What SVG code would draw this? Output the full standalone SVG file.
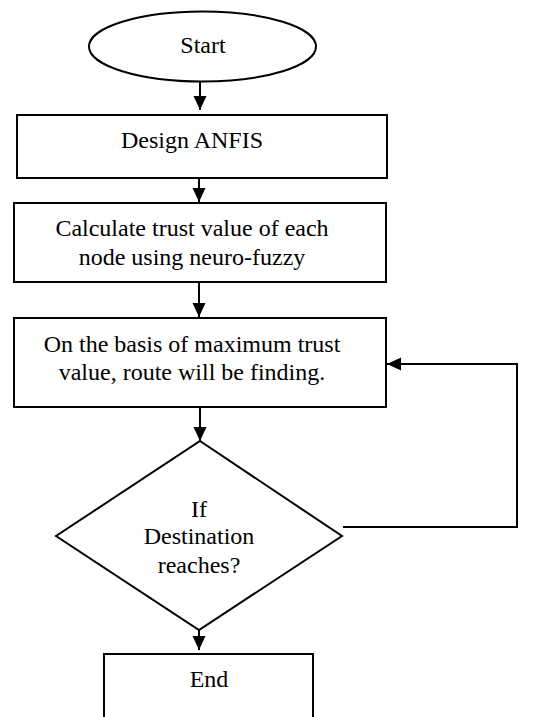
<svg xmlns="http://www.w3.org/2000/svg" width="546" height="717" viewBox="0 0 546 717">
<defs>
<marker id="ah" viewBox="0 0 14 14" refX="14" refY="7" markerWidth="14" markerHeight="14" markerUnits="userSpaceOnUse" orient="auto">
<path d="M0,0.5 L14,7 L0,13.5 Z" fill="#000"/>
</marker>
<style>
.s{fill:#fff;stroke:#000;stroke-width:2}
.c{fill:none;stroke:#000;stroke-width:2}
text{font-family:"Liberation Serif","Times New Roman",serif;font-size:24px;fill:#000;text-anchor:middle}
</style>
</defs>
<rect width="546" height="717" fill="#fff"/>
<g id="connectors">
<path class="c" d="M200,82 V110" marker-end="url(#ah)"/>
<path class="c" d="M199,178 V202" marker-end="url(#ah)"/>
<path class="c" d="M199,282 V317" marker-end="url(#ah)"/>
<path class="c" d="M200,407 V441" marker-end="url(#ah)"/>
<path class="c" d="M199,630 V650" marker-end="url(#ah)"/>
<path class="c" d="M343,527 H517 V364 H387" marker-end="url(#ah)"/>
</g>
<g id="start">
<ellipse class="s" cx="202.5" cy="46.5" rx="113.5" ry="35"/>
<text x="203" y="53">Start</text>
</g>
<g id="design">
<rect class="s" x="17" y="115" width="370" height="63"/>
<text x="192" y="148">Design ANFIS</text>
</g>
<g id="calculate">
<rect class="s" x="14" y="203" width="372" height="79"/>
<text x="192" y="236">Calculate trust value of each</text>
<text x="192" y="265">node using neuro-fuzzy</text>
</g>
<g id="route">
<rect class="s" x="14" y="318" width="372" height="89"/>
<text x="192" y="352">On the basis of maximum trust</text>
<text x="192" y="380">value, route will be finding.</text>
</g>
<g id="decision">
<polygon class="s" points="200,441 342,536 199,630 56,536"/>
<text x="199" y="517">If</text>
<text x="199" y="544">Destination</text>
<text x="199" y="573">reaches?</text>
</g>
<g id="end">
<rect class="s" x="104" y="654" width="209" height="80"/>
<text x="209" y="687">End</text>
</g>
</svg>
